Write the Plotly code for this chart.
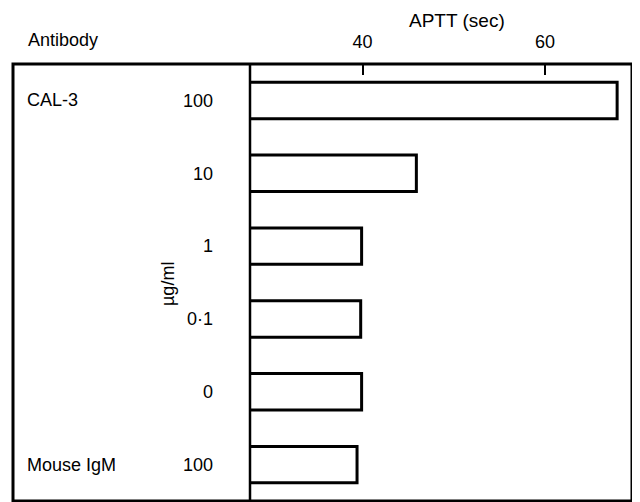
import plotly.graph_objects as go

# Data
antibodies = ["CAL-3", "", "", "", "", "Mouse IgM"]
concentrations = ["100", "10", "1", "0·1", "0", "100"]
aptt = [67.9, 45.9, 39.9, 39.8, 39.9, 39.4]
x_ticks = [40, 60]

positions = list(range(len(aptt)))

FONT = "Liberation Sans, Arial, sans-serif"
PW = 382.0  # plot width in px
PH = 437.0  # plot height in px

fig = go.Figure()
fig.add_trace(go.Bar(
    x=aptt, y=positions, orientation="h", width=0.5,
    marker=dict(color="white", line=dict(color="black", width=3)),
    showlegend=False, hoverinfo="x",
))

fig.update_layout(
    width=632, height=494,
    margin=dict(l=242, r=8, t=56, b=1, autoexpand=False),
    paper_bgcolor="white", plot_bgcolor="white",
    font=dict(family=FONT, size=18, color="black"),
    xaxis=dict(
        side="top", range=[27.67, 69.53], tickvals=x_ticks,
        ticks="inside", ticklen=11, tickwidth=2, tickcolor="black",
        showgrid=False, zeroline=False, showline=False,
        ticklabelstandoff=11,
        automargin=False,
    ),
    yaxis=dict(
        range=[5.5, -0.5], tickvals=positions, ticktext=concentrations,
        ticks="", showgrid=False, zeroline=False, showline=False,
        ticklabelstandoff=36, automargin=False,
    ),
)

# Outer box and divider
x_left = -237 / PW
fig.add_shape(type="rect", xref="paper", yref="paper", x0=x_left, x1=1, y0=0, y1=1,
              line=dict(color="black", width=3), layer="above")
fig.add_shape(type="line", xref="paper", yref="paper", x0=0, x1=0, y0=0, y1=1,
              line=dict(color="black", width=2.5), layer="above")

# Axis title
fig.add_annotation(text="APTT (sec)", xref="paper", yref="paper", x=207 / PW, y=1,
                   yshift=55, xanchor="center", yanchor="top", showarrow=False,
                   borderpad=0, font=dict(size=19))

# Antibody labels
for i, name in enumerate(antibodies):
    if name:
        fig.add_annotation(text=name, xref="paper", yref="y", x=-225 / PW, y=positions[i],
                           xanchor="left", yanchor="middle", showarrow=False)

fig.add_annotation(text="Antibody", xref="paper", yref="paper", x=-224 / PW, y=1,
                   yshift=24, xanchor="left", yanchor="middle", showarrow=False)
fig.add_annotation(text="µg/ml", xref="paper", yref="paper", x=-82 / PW,
                   y=(501 - 284) / PH, textangle=-90, xanchor="center", yanchor="middle",
                   showarrow=False)

fig.write_html("out.html")
